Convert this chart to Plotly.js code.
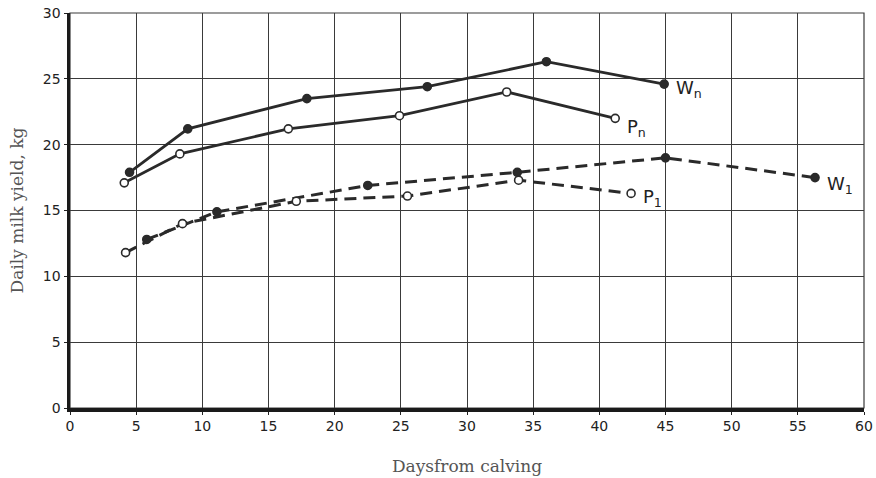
<!DOCTYPE html>
<html>
<head>
<meta charset="utf-8">
<script src="https://cdn.plot.ly/plotly-3.0.1.min.js"></script>
<style>html,body{margin:0;padding:0;background:#fff;}#chart{width:876px;height:478px;}</style>
</head>
<body>
<div id="chart"></div>
<script>
// Days from calving and daily milk yield (kg) for each group
const wnDays = [4.5, 8.9, 17.9, 27.0, 36.0, 44.9];
const wnYield = [17.9, 21.2, 23.5, 24.4, 26.3, 24.6];
const pnDays = [4.1, 8.3, 16.5, 24.9, 33.0, 41.2];
const pnYield = [17.1, 19.3, 21.2, 22.2, 24.0, 22.0];
const w1Days = [5.8, 11.1, 22.5, 33.8, 45.0, 56.3];
const w1Yield = [12.8, 14.9, 16.9, 17.9, 19.0, 17.5];
const p1Days = [4.2, 8.5, 17.1, 25.5, 33.9, 42.4];
const p1Yield = [11.8, 14.0, 15.7, 16.1, 17.3, 16.3];
const seriesLabels = ['W<sub>n</sub>', 'P<sub>n</sub>', 'W<sub>1</sub>', 'P<sub>1</sub>'];
const tickVals = [0, 5, 10, 15, 20, 25, 30, 35, 40, 45, 50, 55, 60];

const ink = '#2a2a2a';
function tr(x, y, filled, dash, name) {
  return {
    x: x, y: y, type: 'scatter', mode: 'lines+markers', name: name,
    line: {color: ink, width: dash ? 3 : 2.8, dash: dash ? '12px,7px' : 'solid'},
    marker: {size: 8, symbol: 'circle', color: filled ? ink : '#fff', line: {color: ink, width: 1.6}},
    cliponaxis: false, hoverinfo: 'x+y'
  };
}
const data = [
  tr(wnDays, wnYield, true, false, 'Wn'),
  tr(pnDays, pnYield, false, false, 'Pn'),
  tr(w1Days, w1Yield, true, true, 'W1'),
  tr(p1Days, p1Yield, false, true, 'P1')
];
const lastPts = [
  [wnDays[wnDays.length-1], wnYield[wnYield.length-1]],
  [pnDays[pnDays.length-1], pnYield[pnYield.length-1]],
  [w1Days[w1Days.length-1], w1Yield[w1Yield.length-1]],
  [p1Days[p1Days.length-1], p1Yield[p1Yield.length-1]]
];
const yShift = [-5, -10, -7, -5];
const annotations = seriesLabels.map((t, i) => ({
  x: lastPts[i][0], y: lastPts[i][1], xref: 'x', yref: 'y', text: t,
  showarrow: false, xanchor: 'left', xshift: 10, yshift: yShift[i],
  font: {family: 'DejaVu Sans', size: 18, color: '#222'}
}));
const layout = {
  width: 876, height: 478,
  margin: {l: 70, r: 12, t: 13, b: 70},
  paper_bgcolor: '#fff', plot_bgcolor: '#fff',
  showlegend: false,
  xaxis: {
    range: [0, 60], tickvals: tickVals, ticktext: tickVals.map(String),
    showgrid: true, gridcolor: '#3a3a3a', gridwidth: 1, zeroline: false,
    showline: true, linecolor: '#1a1a1a', linewidth: 3.5,
    ticks: 'outside', ticklen: 3, tickcolor: '#222',
    tickfont: {family: 'DejaVu Sans', size: 14, color: '#222'},
    title: {text: 'Daysfrom calving', font: {family: 'DejaVu Serif', size: 17, color: '#555'}, standoff: 28}
  },
  yaxis: {
    range: [0, 30], dtick: 5, tick0: 0,
    showgrid: true, gridcolor: '#3a3a3a', gridwidth: 1, zeroline: false,
    showline: true, linecolor: '#1a1a1a', linewidth: 3.5,
    ticks: 'outside', ticklen: 3, tickcolor: '#222',
    tickfont: {family: 'DejaVu Sans', size: 14, color: '#222'},
    title: {text: 'Daily milk yield, kg', font: {family: 'DejaVu Serif', size: 17, color: '#555'}, standoff: 16}
  },
  shapes: [
    {type: 'rect', xref: 'paper', yref: 'paper', x0: 0, x1: 1, y0: 0, y1: 1, line: {color: '#3a3a3a', width: 1.2}, layer: 'below'}
  ],
  annotations: annotations
};
Plotly.newPlot('chart', data, layout, {displayModeBar: false, staticPlot: true});
</script>
</body>
</html>
